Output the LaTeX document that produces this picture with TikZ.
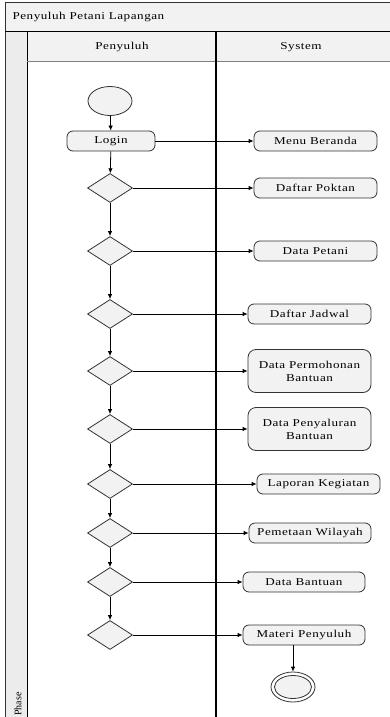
\documentclass[tikz,border=0pt]{standalone}
\usepackage{fontspec}
\setmainfont{Liberation Serif}[FakeStretch=1.25,LetterSpace=5]
\newfontfamily\phasefont{Liberation Serif}
\usetikzlibrary{shapes.geometric,arrows.meta}

\definecolor{boxgray}{HTML}{F2F2F2}
\definecolor{linegray}{HTML}{333333}

\tikzset{
    act/.style={draw=linegray, fill=boxgray, rounded corners=6pt, line width=0.8pt,
        minimum width=123pt, minimum height=20pt, inner sep=1pt, font=\fontsize{10.5}{13}\selectfont, align=center},
    tallact/.style={act, minimum height=43pt, rounded corners=8pt},
    decide/.style={draw=linegray, fill=boxgray, diamond, line width=0.8pt,
        minimum width=45pt, minimum height=29pt, inner sep=0pt},
    flow/.style={-{Latex[length=5pt,width=4.5pt]}, line width=0.8pt}
}

\begin{document}
\begin{tikzpicture}[x=1pt,y=-1pt]
    \def\lft{5}       % Left edge of the frame
    \def\top{2}       % Top edge of the frame
    \def\rgt{392}     % Right edge (cut off)
    \def\bot{719}     % Bottom edge (cut off)
    \def\lane{216}    % Line between the two lanes

    \useasboundingbox (0,0) rectangle (390,717);

    % Draw the pool frame
    \fill[boxgray] (\lft,\top) rectangle (\rgt,32);
    \fill[boxgray!95!gray] (\lft,32) rectangle (27,\bot);
    \fill[boxgray] (27,32) rectangle (\rgt,62);
    \draw[linegray, line width=0.8pt] (\rgt,\top) -- (\lft,\top) -- (\lft,\bot);
    \draw[black, line width=1pt] (\lft,32) -- (\rgt,32);
    \draw[black, line width=1pt] (27,32) -- (27,\bot);
    \draw[gray, line width=1pt] (27,62) -- (\rgt,62);
    \draw[black, line width=1.2pt] (\lane,32) -- (\lane,\bot);

    % Title and lane names
    \node[anchor=west, font=\fontsize{10.5}{12}\selectfont] (pool) at (9,17) {Penyuluh Petani Lapangan};
    \node[font=\fontsize{10.5}{12}\selectfont] (penyuluh) at (122,47) {Penyuluh};
    \node[font=\fontsize{10.5}{12}\selectfont] (system) at (301,47) {System};
    \node[rotate=90, anchor=west, inner sep=0pt, font=\phasefont\fontsize{10}{11}\selectfont] (phase) at (18,716) {Phase};

    % Start and login
    \node[draw=linegray, fill=boxgray, ellipse, line width=0.8pt, minimum width=44pt, minimum height=29pt, inner sep=0pt] (start) at (110,101) {};
    \node[act, minimum width=88pt] (login) at (111,141) {Login};

    % Decisions in the Penyuluh lane
    \node[decide] (d1) at (110,188) {};
    \node[decide] (d2) at (110,251) {};
    \node[decide] (d3) at (110,314) {};
    \node[decide] (d4) at (110,371) {};
    \node[decide] (d5) at (110,429) {};
    \node[decide] (d6) at (110,484) {};
    \node[decide] (d7) at (110,533) {};
    \node[decide] (d8) at (110,582) {};
    \node[decide] (d9) at (110,635) {};

    % Pages in the System lane
    \node[act] (beranda) at (315.5,141) {Menu Beranda};
    \node[act] (poktan) at (315.5,188) {Daftar Poktan};
    \node[act] (petani) at (315.5,251) {Data Petani};
    \node[act] (jadwal) at (309.5,314) {Daftar Jadwal};
    \node[tallact] (permohonan) at (309.5,371) {Data Permohonan\\Bantuan};
    \node[tallact] (penyaluran) at (309.5,429) {Data Penyaluran\\Bantuan};
    \node[act] (laporan) at (318.5,484) {Laporan Kegiatan};
    \node[act, minimum width=122pt] (pemetaan) at (310,533) {Pemetaan Wilayah};
    \node[act, minimum width=122pt] (bantuan) at (304,582) {Data Bantuan};
    \node[act, minimum width=122pt] (materi) at (304,635) {Materi Penyuluh};

    % End state
    \node[draw=linegray, ellipse, line width=0.8pt, minimum width=44pt, minimum height=30pt, inner sep=0pt] (stop) at (293,687) {};
    \node[draw=linegray, fill=boxgray, ellipse, line width=0.8pt, minimum width=37pt, minimum height=23pt, inner sep=0pt] (stopin) at (293,687) {};

    % Draw the flow
    \draw[flow] (start) -- (login);
    \draw[flow] (login) -- (d1);
    \draw[flow] (d1) -- (d2);
    \draw[flow] (d2) -- (d3);
    \draw[flow] (d3) -- (d4);
    \draw[flow] (d4) -- (d5);
    \draw[flow] (d5) -- (d6);
    \draw[flow] (d6) -- (d7);
    \draw[flow] (d7) -- (d8);
    \draw[flow] (d8) -- (d9);
    \draw[flow] (login) -- (beranda);
    \draw[flow] (d1) -- (poktan);
    \draw[flow] (d2) -- (petani);
    \draw[flow] (d3) -- (jadwal);
    \draw[flow] (d4) -- (permohonan);
    \draw[flow] (d5) -- (penyaluran);
    \draw[flow] (d6) -- (laporan);
    \draw[flow] (d7) -- (pemetaan);
    \draw[flow] (d8) -- (bantuan);
    \draw[flow] (d9) -- (materi);
    \draw[flow] (materi.south -| stop) -- (stop);
\end{tikzpicture}
\end{document}
